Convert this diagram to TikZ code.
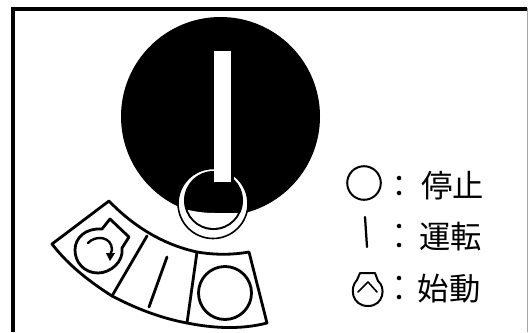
\documentclass[tikz,border=0pt]{standalone}
\usepackage{fontspec}
\newfontfamily\cjk{Noto Sans CJK JP}
\tikzset{
  lbl/.style={anchor=center,inner sep=0pt,font=\cjk\fontsize{23.5}{23.5}\selectfont},
  ink/.style={draw=black,line width=2.1pt,line join=round,line cap=round},
  thin ink/.style={draw=black,line width=1.5pt,line join=round,line cap=round},
  dot/.style={fill=black,circle,inner sep=0pt,minimum size=3.4pt}
}
\begin{document}
\begin{tikzpicture}[x=0.75pt,y=-0.75pt]
\useasboundingbox (0,0) rectangle (528,332);
\fill[white] (0,0) rectangle (528,332);
% frame
\draw[line width=3pt,draw=black] (12.5,332) -- (12.5,8.5) -- (527,8.5);
\draw[line width=0.75pt,draw=black!35] (527.2,8) -- (527.2,332);
% knob
\fill[black] (220.5,116.5) circle (99.5);
\fill[white] (213,203.5) circle (34.5);
\draw[draw=black,line width=1.2pt] (213,203.5) circle (35);
\fill[black] (213.5,200.5) circle (29.5);
\begin{scope}
\clip (213.5,200.5) circle (27.5);
\fill[white] (180,208) .. controls (195,212) and (205,213) .. (215,213) -- (250,213) -- (250,235) -- (180,235) -- cycle;
\end{scope}
\fill[black] (231,166) rectangle (233.5,184);
\fill[white] (214,51) rectangle (231,182);
% sector
\draw[ink] (52,244) -- (109,201) .. controls (135,228) and (165,245) .. (197,252)
  .. controls (215,255) and (232,255) .. (249,252) -- (267,323)
  .. controls (240,330) and (212,328) .. (187,323)
  .. controls (160,318) and (135,308) .. (112,296)
  .. controls (90,282) and (68,265) .. (52,244) -- cycle;
\draw[ink] (147,236) -- (112,296);
\draw[ink] (197,252) -- (187,323);
\draw[ink] (167,257) -- (149,307);
\draw[ink] (225,293) circle (26.5);
% start icon in sector
\draw[ink] (102,229) -- (110,219) -- (129,237) -- (122,248)
  .. controls (124,262) and (110,273) .. (98,273)
  .. controls (84,273) and (75,262) .. (75,250)
  .. controls (75,238) and (85,228) .. (102,229) -- cycle;
\draw[ink,line width=1.8pt] (88,243) .. controls (95,235) and (112,236) .. (112,250) -- (110,255);
\fill[black] (106,253) -- (115,253) -- (110,261) -- cycle;
% legend
\draw[thin ink] (364,183) circle (16.8);
\node[dot] (c1) at (399,178) {};
\node[dot] (c2) at (399,193) {};
\node[lbl] (t1) at (452.5,186) {停止};
\draw[thin ink,line width=1.7pt] (365,217) -- (367,247);
\node[dot] (c3) at (399,226) {};
\node[dot] (c4) at (399,245) {};
\node[lbl] (t2) at (450.5,237) {運転};
\draw[thin ink] (360,273) -- (375,273) -- (378,281)
  .. controls (386,287) and (384,306) .. (368,306)
  .. controls (352,306) and (349,288) .. (357,280) -- cycle;
\draw[thin ink,line width=1.2pt] (358,292) -- (368,282) -- (377,292);
\node[dot] (c5) at (399,278) {};
\node[dot] (c6) at (399,297) {};
\node[lbl] (t3) at (449,289) {始動};
\end{tikzpicture}
\end{document}
